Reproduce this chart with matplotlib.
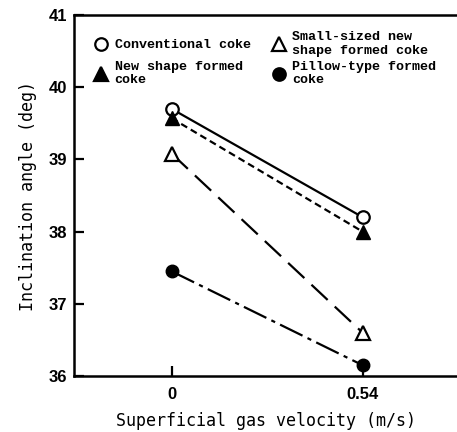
import matplotlib
matplotlib.use("Agg")
import matplotlib.pyplot as plt
from matplotlib.lines import Line2D

plt.rcParams['lines.scale_dashes'] = False

velocity = [0.0, 0.54]
conventional = [39.7, 38.2]
new_shape = [39.57, 38.0]
small_sized = [39.08, 36.6]
pillow = [37.45, 36.15]

labels = ["Conventional coke", "Small-sized new\nshape formed coke",
          "New shape formed\ncoke", "Pillow-type formed\ncoke"]
xticks = [0, 0.54]
xticklabels = ["0", "0.54"]
yticks = [36, 37, 38, 39, 40, 41]

fig = plt.figure(figsize=(4.57, 4.32), dpi=100)
ax = fig.add_axes([0.162, 0.1296, 0.838, 0.8357])

lw = 1.6
ms = 9
ax.plot(velocity, conventional, '-', color='black', lw=lw, marker='o',
        mfc='white', mec='black', mew=1.6, ms=ms, zorder=3)
ax.plot(velocity, new_shape, color='black', lw=lw, marker='^',
        mfc='black', mec='black', ms=ms + 1, dashes=(5, 3), zorder=3)
ax.plot(velocity, small_sized, color='black', lw=lw, marker='^',
        mfc='white', mec='black', mew=1.6, ms=ms + 1, dashes=(16, 7), zorder=3)
ax.plot(velocity, pillow, color='black', lw=lw, marker='o',
        mfc='black', mec='black', ms=ms, dashes=(18, 4, 3, 4), zorder=3)

ax.set_xlim(-0.276, 0.807)
ax.set_ylim(36, 41)
ax.set_xticks(xticks)
ax.set_xticklabels(xticklabels)
ax.set_yticks(yticks)

for s in ['left', 'bottom', 'top']:
    ax.spines[s].set_linewidth(1.8)
ax.spines['right'].set_visible(False)

ax.tick_params(axis='both', direction='in', length=7, width=1.6,
               labelsize=12, top=False, right=False)
ax.tick_params(axis='x', pad=8)
ax.tick_params(axis='y', pad=5)
for t in ax.get_xticklabels() + ax.get_yticklabels():
    t.set_fontfamily('Liberation Sans')
    t.set_fontweight('bold')

ax.set_xlabel("Superficial gas velocity (m/s)", fontfamily='DejaVu Sans Mono',
              fontsize=12, labelpad=7)
ax.set_ylabel("Inclination angle (deg)", fontfamily='DejaVu Sans Mono',
              fontsize=12, labelpad=8)

def proxy(marker, filled):
    return Line2D([], [], ls='none', marker=marker, color='black',
                  mfc='black' if filled else 'white', mec='black', mew=1.6,
                  ms=ms + (1 if marker == '^' else 0))

legprops = dict(family='Liberation Mono', weight='bold', size=9.6)
leg1 = ax.legend([proxy('o', False), proxy('^', False)], [labels[0], labels[1]],
                 ncol=2, loc='upper left', bbox_to_anchor=(0.04, 0.97),
                 frameon=False, prop=legprops, handlelength=1.0,
                 handletextpad=0.5, columnspacing=1.6, borderaxespad=0)
ax.add_artist(leg1)
leg2 = ax.legend([proxy('^', True), proxy('o', True)], [labels[2], labels[3]],
                 ncol=2, loc='upper left', bbox_to_anchor=(0.04, 0.887),
                 frameon=False, prop=legprops, handlelength=1.0,
                 handletextpad=0.5, columnspacing=2.2, borderaxespad=0)
for lg in (leg1, leg2):
    for t in lg.get_texts():
        t.set_linespacing(1.15)

fig.savefig("out.png", dpi=100)
